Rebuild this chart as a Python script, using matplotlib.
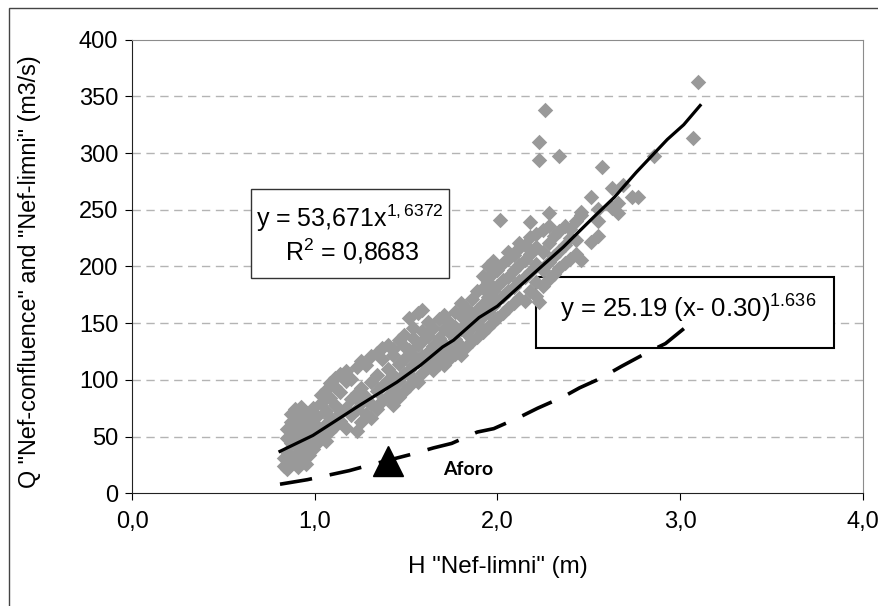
import matplotlib
matplotlib.use("Agg")
import matplotlib.pyplot as plt
from matplotlib.patches import Rectangle

plt.rcParams["font.family"] = ["Liberation Sans", "DejaVu Sans"]
plt.rcParams["mathtext.fontset"] = "custom"
plt.rcParams["mathtext.rm"] = "Liberation Sans"
plt.rcParams["mathtext.it"] = "Liberation Sans"

obs_cols = [
    (0.83, [24, 31]),
    (0.85, [21, 36, 49, 57]),
    (0.87, [27, 44, 63, 70]),
    (0.89, [33, 52, 59, 74]),
    (0.91, [23, 40, 47, 66, 71]),
    (0.925, [29, 56, 62, 76]),
    (0.94, [37, 50, 69, 73]),
    (0.955, [26, 43, 60, 65]),
    (0.97, [34, 53, 71]),
    (0.99, [39, 47, 63, 75]),
    (1.01, [44, 58, 68]),
    (1.035, [49, 53, 80, 87]),
    (1.06, [46, 61, 73, 91]),
    (1.085, [55, 66, 84, 97]),
    (1.11, [59, 78, 94, 102]),
    (1.14, [64, 71, 89, 105]),
    (1.17, [58, 75, 99, 108]),
    (1.20, [69, 83, 101]),
    (1.23, [55, 74, 88, 111]),
    (1.255, [63, 80, 93, 117]),
    (1.28, [70, 85, 113]),
    (1.31, [66, 79, 98, 121]),
    (1.34, [74, 90, 104, 124]),
    (1.37, [81, 95, 118, 128]),
    (1.40, [86, 100, 110, 131]),
    (1.43, [78, 92, 104, 122, 127]),
    (1.46, [85, 99, 114, 135]),
    (1.49, [90, 105, 118, 130, 140]),
    (1.515, [95, 109, 126, 155]),
    (1.54, [101, 113, 122, 137, 146]),
    (1.565, [98, 117, 131, 159]),
    (1.59, [106, 121, 134, 143, 162]),
    (1.62, [111, 125, 139, 151]),
    (1.65, [109, 116, 130, 146]),
    (1.68, [114, 123, 137, 154]),
    (1.71, [113, 120, 132, 145, 157]),
    (1.74, [119, 127, 141, 150]),
    (1.77, [123, 136, 147, 160]),
    (1.80, [122, 130, 145, 156, 168]),
    (1.83, [129, 141, 153, 163]),
    (1.86, [134, 147, 158, 171]),
    (1.89, [138, 149, 162, 178]),
    (1.92, [142, 156, 167, 181, 192]),
    (1.95, [147, 160, 173, 186, 200]),
    (1.975, [151, 165, 178, 194, 205]),
    (2.00, [155, 170, 183, 197]),
    (2.015, [241]),
    (2.03, [159, 174, 188, 203]),
    (2.06, [163, 178, 191, 207, 213]),
    (2.09, [168, 182, 197, 210]),
    (2.12, [172, 187, 201, 216, 221]),
    (2.15, [170, 191, 206, 219]),
    (2.18, [178, 195, 211, 226, 239]),
    (2.21, [174, 186, 202, 217, 229]),
    (2.23, [169, 294, 310]),
    (2.25, [183, 197, 213, 232]),
    (2.26, [338]),
    (2.28, [189, 204, 221, 236, 247]),
    (2.31, [193, 209, 227]),
    (2.34, [199, 214, 231, 297]),
    (2.37, [203, 219, 236]),
    (2.40, [207, 225, 233]),
    (2.43, [211, 223, 240]),
    (2.46, [206, 245, 248]),
    (2.51, [222, 261]),
    (2.55, [227, 240, 251]),
    (2.57, [288]),
    (2.63, [252, 269]),
    (2.66, [247, 256]),
    (2.69, [272]),
    (2.735, [261]),
    (2.77, [261]),
    (2.86, [297]),
    (3.07, [313]),
    (3.10, [363]),
]

# fitted power curve (solid) as drawn
fit_h = [0.81, 0.99, 1.25, 1.45, 1.58, 1.70, 1.76, 1.90, 2.00, 2.20, 2.36, 2.53, 2.64, 2.76, 2.93, 3.02, 3.11]
fit_q = [37, 51, 78, 98, 113, 129, 135, 155, 165, 194, 217, 244, 261, 283, 312, 325, 342]

# reference rating curve (dashed) as drawn
ref_h = [0.81, 0.96, 1.19, 1.28, 1.52, 1.65, 1.75, 1.89, 1.98, 2.12, 2.22, 2.36, 2.45, 2.56, 2.68, 2.83, 2.92, 3.05]
ref_q = [8, 12, 20, 24, 34, 40, 44, 54, 57, 67, 75, 85, 93, 101, 112, 125, 132, 149]

# gauging
aforo_h = [1.40]
aforo_q = [28.7]

x_ticks = [0, 1, 2, 3, 4]
x_ticklabels = ["0,0", "1,0", "2,0", "3,0", "4,0"]
y_ticks = [0, 50, 100, 150, 200, 250, 300, 350, 400]

obs_h = [h for h, qs in obs_cols for _ in qs]
obs_q = [q for _, qs in obs_cols for q in qs]

fig = plt.figure(figsize=(8.79, 6.06), dpi=100)
ax = fig.add_axes([0.1502, 0.186, 0.8313, 0.7485])

# outer chart frame (only top and left edges fall inside the picture)
fig.patches.append(Rectangle((9 / 879, -0.1), 1.2, 1.1 - 8 / 606,
                             transform=fig.transFigure, fill=False,
                             edgecolor="#444444", linewidth=1.0))

ax.set_xlim(0, 4)
ax.set_ylim(0, 400)
ax.set_xticks(x_ticks)
ax.set_xticklabels(x_ticklabels)
ax.set_yticks(y_ticks)
ax.tick_params(axis="both", labelsize=17, direction="out", length=5, width=0.8)
ax.tick_params(axis="x", pad=8)
ax.tick_params(axis="y", pad=5)

for y in y_ticks[1:-1]:
    ax.axhline(y, color="#b4b4b4", linewidth=1.0, linestyle=(0, (6, 4)), zorder=0.5)

ax.spines["left"].set_color("#222222")
ax.spines["bottom"].set_color("#222222")
ax.spines["top"].set_color("#8c8c8c")
ax.spines["right"].set_color("#8c8c8c")

# equation boxes
ax.add_patch(Rectangle((0.651, 189.9), 1.084, 78.4, facecolor="white",
                       edgecolor="#333333", linewidth=1.0, zorder=1))
ax.add_patch(Rectangle((2.210, 128.4), 1.633, 62.3, facecolor="white",
                       edgecolor="black", linewidth=1.5, zorder=1))

ax.scatter(obs_h, obs_q, marker="D", s=62, color="#999999", linewidths=0, zorder=2)
ax.plot(fit_h, fit_q, color="black", linewidth=2.3, zorder=3)
ax.plot(ref_h, ref_q, color="black", linewidth=2.6, linestyle=(0, (9, 5)), zorder=3)
ax.plot(aforo_h, aforo_q, marker="^", markersize=21, color="black", linestyle="none", zorder=3)

ax.text(0.679, 235, r"y = 53,671x$^{1,6372}$", fontsize=18, ha="left", va="baseline", zorder=4)
ax.text(0.837, 205.6, r"R$^{2}$ = 0,8683", fontsize=18, ha="left", va="baseline", zorder=4)
ax.text(2.343, 155.2, r"y = 25.19 (x- 0.30)$^{1.636}$", fontsize=18.5, ha="left", va="baseline", zorder=4)
ax.text(1.702, 16.1, "Aforo", fontsize=14, fontweight="bold", family=["Lato", "DejaVu Sans"],
        ha="left", va="baseline", zorder=4)

fig.text(498 / 879, 1 - 567 / 606, 'H "Nef-limni" (m)', fontsize=17.5, ha="center", va="center")
fig.text(30 / 879, 1 - 272 / 606, 'Q "Nef-confluence" and "Nef-limni" (m3/s)', fontsize=16.8,
         rotation=90, ha="center", va="center")

fig.savefig("out.png", dpi=100)
